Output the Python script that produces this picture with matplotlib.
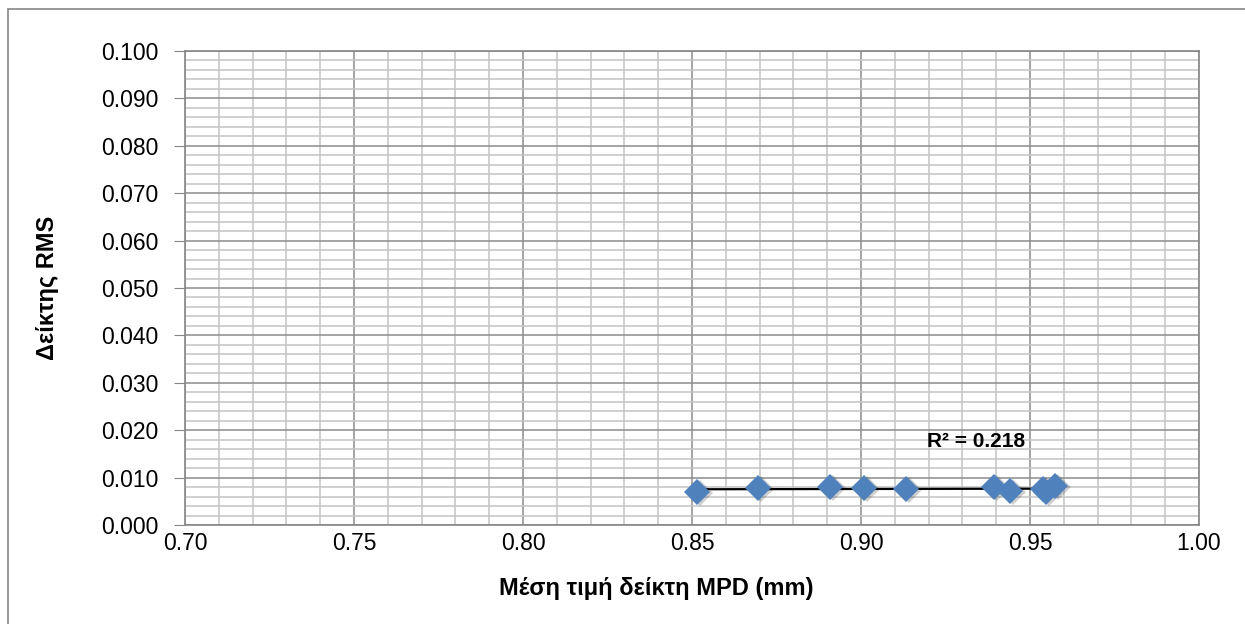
import matplotlib.pyplot as plt
from matplotlib.patches import Rectangle
from matplotlib.ticker import MultipleLocator, FormatStrFormatter
import numpy as np

# Mean MPD vs RMS index
mpd = [0.8515, 0.8695, 0.8908, 0.9009, 0.9133, 0.9393, 0.9441, 0.9538, 0.9547, 0.9574]
rms = [0.0070, 0.0078, 0.0080, 0.0078, 0.0076, 0.0080, 0.0072, 0.0076, 0.0070, 0.0082]
r2_label = "R² = 0.218"
x_label = "Μέση τιμή δείκτη MPD (mm)"
y_label = "Δείκτης RMS"

plt.rcParams['font.family'] = ['Liberation Sans', 'DejaVu Sans']

fig = plt.figure(figsize=(12.45, 6.24), dpi=100)
ax = fig.add_axes([185 / 1245, 1 - 525 / 624, (1199 - 185) / 1245, (525 - 51) / 624])

# chart frame
fig.patches.append(Rectangle((8 / 1245, -0.1), 1.2, 1 - 9 / 624 + 0.1, transform=fig.transFigure,
                             fill=False, edgecolor='#868686', linewidth=1.2))

# linear trend line
k, b = np.polyfit(mpd, rms, 1)
xs = np.array([min(mpd), max(mpd)])
ax.plot(xs, k * xs + b, color='black', linewidth=1.6, zorder=4)

# markers with a soft shadow
x = np.array(mpd)
y = np.array(rms)
ax.plot(x + 0.0009, y - 0.00025, 'D', markersize=13.5, color='#404040', alpha=0.25,
        markeredgewidth=0, zorder=3)
ax.plot(x, y, 'D', markersize=13.5, color='#4F81BD', markeredgewidth=0, zorder=5)

ax.text(0.934, 0.0177, r2_label, fontsize=15, fontweight='bold', ha='center', va='center')

ax.set_xlim(0.70, 1.00)
ax.set_ylim(0.0, 0.100)
ax.xaxis.set_major_locator(MultipleLocator(0.05))
ax.xaxis.set_minor_locator(MultipleLocator(0.01))
ax.yaxis.set_major_locator(MultipleLocator(0.01))
ax.yaxis.set_minor_locator(MultipleLocator(0.002))
ax.xaxis.set_major_formatter(FormatStrFormatter('%.2f'))
ax.yaxis.set_major_formatter(FormatStrFormatter('%.3f'))

ax.grid(which='major', color='#8c8c8c', linewidth=1.1, zorder=1)
ax.grid(which='minor', color='#c4c4c4', linewidth=1.1, zorder=0)
ax.set_axisbelow(True)

for s in ax.spines.values():
    s.set_color('#868686')
    s.set_linewidth(1.2)

ax.tick_params(axis='y', which='major', length=8, color='#868686', labelsize=16.5, pad=11)
ax.tick_params(axis='x', which='major', length=0, labelsize=16.5, pad=5)
ax.tick_params(which='minor', length=0)

ax.set_xlabel(x_label, fontsize=17, fontweight='bold', va='center')
ax.xaxis.set_label_coords(0.465, -(589 - 525) / 474)
ax.set_ylabel(y_label, fontsize=17, fontweight='bold', va='center')
ax.yaxis.set_label_coords(-(185 - 48) / 1014, 0.5)

fig.savefig("out.png", dpi=100)
